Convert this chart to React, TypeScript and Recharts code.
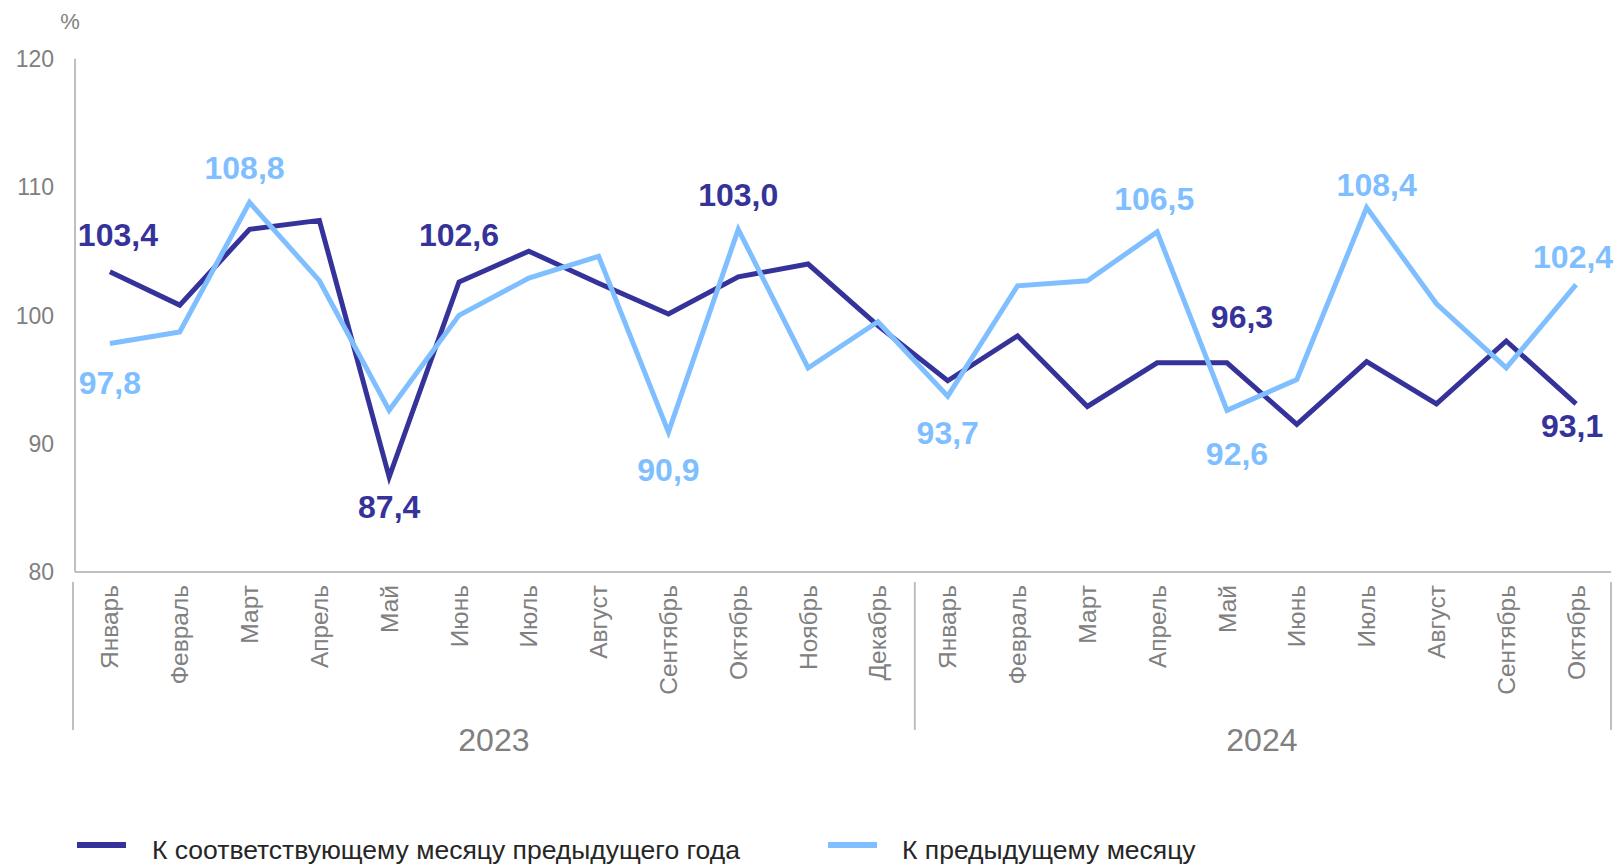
import { LabelList, Legend, Line, LineChart, XAxis, YAxis } from "recharts"

const months = [
  'Январь', 'Февраль', 'Март', 'Апрель', 'Май', 'Июнь', 'Июль', 'Август', 'Сентябрь', 'Октябрь', 'Ноябрь', 'Декабрь',
  'Январь', 'Февраль', 'Март', 'Апрель', 'Май', 'Июнь', 'Июль', 'Август', 'Сентябрь', 'Октябрь',
]
const years = [
  '2023', '2023', '2023', '2023', '2023', '2023', '2023', '2023', '2023', '2023', '2023', '2023',
  '2024', '2024', '2024', '2024', '2024', '2024', '2024', '2024', '2024', '2024',
]
// к соответствующему месяцу предыдущего года
const yoyValues = [103.4, 100.8, 106.7, 107.4, 87.4, 102.6, 105.0, 102.5, 100.1, 103.0, 104.0, 99.2, 94.9, 98.4, 92.9, 96.3, 96.3, 91.5, 96.4, 93.1, 98.0, 93.1]
// к предыдущему месяцу
const momValues = [97.8, 98.7, 108.8, 102.7, 92.6, 100.0, 102.9, 104.6, 90.9, 106.7, 95.9, 99.5, 93.7, 102.3, 102.7, 106.5, 92.6, 95.0, 108.4, 100.9, 95.9, 102.4]
const yTicks = [80, 90, 100, 110, 120]
const seriesNames = ['К соответствующему месяцу предыдущего года', 'К предыдущему месяцу']

// which points get a value label, and where it sits relative to the point (dx, dy)
const yoyLabelAt: Record<number, [number, number]> = {
  0: [8, -37], 4: [0, 30], 5: [0, -47], 9: [0, -82], 16: [15, -46], 21: [-4, 22],
}
const momLabelAt: Record<number, [number, number]> = {
  0: [0, 39], 2: [-5, -35], 8: [0, 38], 12: [0, 37], 15: [-3, -33], 16: [10, 43], 18: [10, -23], 21: [-3, -28],
}

const DARK = '#35339a'
const LIGHT = '#7fbfff'
const AXIS = '#bfbfbf'
const TICK = '#808080'
const FONT = '"Liberation Sans", Arial, sans-serif'

const W = 1616
const H = 865
const PLOT_LEFT = 75
const PLOT_RIGHT = 1611
const PLOT_TOP = 58.7
const PLOT_BOTTOM = 572
const Y_AXIS_W = 60
const X_AXIS_H = 200
const BAND = (PLOT_RIGHT - PLOT_LEFT) / months.length

const data = months.map((m, i) => ({
  period: `${m} ${years[i]}`,
  yoy: yoyValues[i],
  mom: momValues[i],
}))

const fmt = (v: number) => v.toFixed(1).replace('.', ',')

const MonthTick = (props: any) => {
  const { x, index } = props
  const year = years[index]
  const first = years.indexOf(year)
  const last = years.lastIndexOf(year)
  const yearX = x + ((first + last) / 2 - index) * BAND
  const ty = PLOT_BOTTOM + 13
  const sepX = x - BAND / 2 + (index === 0 ? -2 : 2)
  return (
    <g>
      <text
        x={x}
        y={ty}
        dy="0.35em"
        transform={`rotate(-90, ${x}, ${ty})`}
        textAnchor="end"
        fill={TICK}
        fontSize={24.5}
        fontFamily={FONT}
      >
        {months[index]}
      </text>
      {index === first && (
        <>
          <line x1={sepX} x2={sepX} y1={PLOT_BOTTOM + 10} y2={PLOT_BOTTOM + 158} stroke={AXIS} strokeWidth={2} />
          <text x={yearX} y={PLOT_BOTTOM + 168} dy="0.35em" textAnchor="middle" fill={TICK} fontSize={32} fontFamily={FONT}>
            {year}
          </text>
        </>
      )}
      {index === months.length - 1 && (
        <line x1={x + BAND / 2} x2={x + BAND / 2} y1={PLOT_BOTTOM + 10} y2={PLOT_BOTTOM + 158} stroke={AXIS} strokeWidth={2} />
      )}
    </g>
  )
}

const makeLabel = (placement: Record<number, [number, number]>, color: string) => (props: any) => {
  const { x, y, value, index } = props
  const at = placement[index]
  if (!at) return null
  return (
    <text
      x={x + at[0]}
      y={y + at[1]}
      dy="0.35em"
      textAnchor="middle"
      fill={color}
      fontSize={32}
      fontWeight="bold"
      fontFamily={FONT}
    >
      {fmt(value)}
    </text>
  )
}

const legendItems = [
  { name: seriesNames[0], color: DARK, left: 77, textLeft: 152 },
  { name: seriesNames[1], color: LIGHT, left: 828, textLeft: 902 },
]

const renderLegend = () => (
  <div style={{ position: 'relative', width: W, height: 40, fontFamily: FONT, fontSize: 26.5, color: '#262626' }}>
    {legendItems.map((it) => (
      <div key={it.name}>
        <div style={{ position: 'absolute', left: it.left, top: 12, width: 49, height: 6, background: it.color }} />
        <div style={{ position: 'absolute', left: it.textLeft, top: 5, whiteSpace: 'nowrap', lineHeight: '30px' }}>{it.name}</div>
      </div>
    ))}
  </div>
)

const App = () => {
  return (
    <div style={{ position: 'absolute', left: 0, top: 0, width: W, height: H, background: '#fff' }}>
      <LineChart
        width={W}
        height={H}
        data={data}
        margin={{ top: PLOT_TOP, right: W - PLOT_RIGHT, bottom: H - PLOT_BOTTOM - X_AXIS_H, left: PLOT_LEFT - Y_AXIS_W }}
      >
        <XAxis
          dataKey="period"
          interval={0}
          height={X_AXIS_H}
          padding={{ left: BAND / 2, right: BAND / 2 }}
          axisLine={{ stroke: AXIS, strokeWidth: 2 }}
          tickLine={false}
          tickSize={0}
          tickMargin={0}
          tick={<MonthTick />}
        />
        <YAxis
          domain={[80, 120]}
          ticks={yTicks}
          width={Y_AXIS_W}
          axisLine={{ stroke: AXIS, strokeWidth: 2 }}
          tickLine={false}
          tickSize={0}
          tickMargin={21}
          tick={{ fill: TICK, fontSize: 23, fontFamily: FONT }}
          label={() => (
            <text x={70} y={21} dy="0.35em" textAnchor="middle" fill={TICK} fontSize={22} fontFamily={FONT}>
              %
            </text>
          )}
        />
        <Legend
          layout="horizontal"
          verticalAlign="middle"
          align="center"
          content={renderLegend}
          wrapperStyle={{ position: 'absolute', left: 0, top: 830, width: W, height: 40 }}
        />
        <Line
          type="linear"
          dataKey="yoy"
          name={seriesNames[0]}
          stroke={DARK}
          strokeWidth={5}
          dot={false}
          activeDot={false}
          isAnimationActive={false}
        >
          <LabelList dataKey="yoy" content={makeLabel(yoyLabelAt, DARK)} />
        </Line>
        <Line
          type="linear"
          dataKey="mom"
          name={seriesNames[1]}
          stroke={LIGHT}
          strokeWidth={5}
          dot={false}
          activeDot={false}
          isAnimationActive={false}
        >
          <LabelList dataKey="mom" content={makeLabel(momLabelAt, LIGHT)} />
        </Line>
      </LineChart>
    </div>
  )
}

export default App
